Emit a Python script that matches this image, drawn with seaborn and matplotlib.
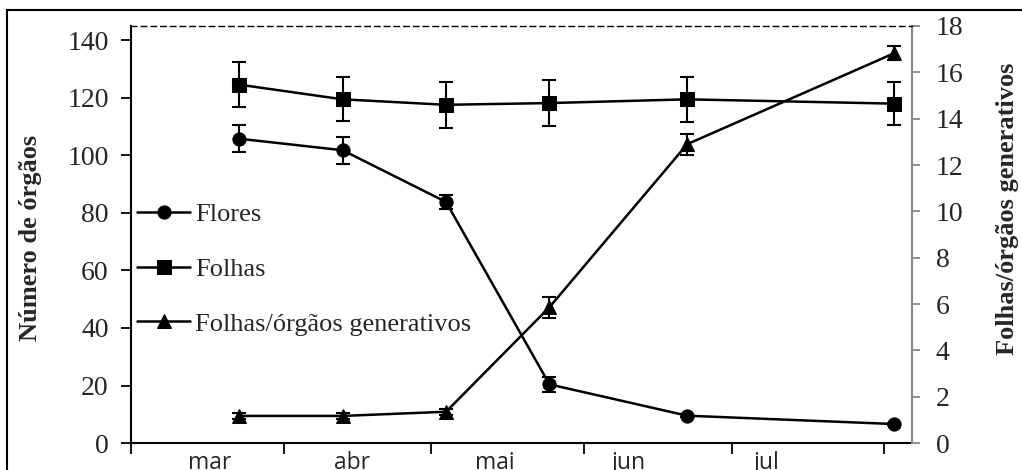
import numpy as np
import pandas as pd
import matplotlib
matplotlib.use("Agg")
import matplotlib.pyplot as plt
import matplotlib.dates as mdates
from matplotlib.patches import Rectangle
from matplotlib.ticker import FuncFormatter, FixedLocator, FixedFormatter
import seaborn as sns

# datas de coleta (ano arbitrario, nao aparece no grafico)
datas = pd.to_datetime(["2010-03-23", "2010-04-13", "2010-05-04",
                        "2010-05-25", "2010-06-22", "2010-08-03"])

flores = [105.8, 101.8, 83.8, 20.4, 9.5, 6.6]
flores_err = [4.7, 4.7, 2.5, 2.6, 0.5, 0.5]

folhas = [124.6, 119.5, 117.6, 118.2, 119.5, 118.0]
folhas_err = [7.9, 7.6, 7.9, 8.0, 7.8, 7.4]

razao = [1.17, 1.17, 1.35, 5.86, 12.9, 16.82]
razao_err = [0.12, 0.12, 0.12, 0.45, 0.45, 0.3]

# rotulos dos meses (posicao aproximada como no original)
meses = ["mar", "abr", "mai", "jun", "jul"]
meses_pos = pd.to_datetime(["2010-03-17", "2010-04-15", "2010-05-14",
                            "2010-06-10", "2010-07-08"])

sns.set_theme(style="white")
plt.rcParams["font.family"] = ["Liberation Serif", "DejaVu Serif"]

fig = plt.figure(figsize=(10.22, 4.70), dpi=100)
ax = fig.add_axes([0.1282, 0.0574, 0.7642, 0.8873])
ax2 = ax.twinx()

kw = dict(color="black", linewidth=1.8, markersize=9.5, markeredgecolor="black")
sns.lineplot(x=datas, y=flores, marker="o", ax=ax, label="Flores", **kw)
sns.lineplot(x=datas, y=folhas, marker="s", ax=ax, label="Folhas", **kw)
sns.lineplot(x=datas, y=razao, marker="^", ax=ax2,
             label="Folhas/órgãos generativos", **kw)

ekw = dict(fmt="none", ecolor="black", elinewidth=1.5, capsize=5, capthick=1.5)
ax.errorbar(datas, flores, yerr=flores_err, **ekw)
ax.errorbar(datas, folhas, yerr=folhas_err, **ekw)
ax2.errorbar(datas, razao, yerr=razao_err, **ekw)

# eixos
ax.set_xlim(pd.Timestamp("2010-03-01"), pd.Timestamp("2010-08-06 16:00"))
ax.set_ylim(0, 145)
ax2.set_ylim(0, 18)
ax.set_yticks(np.arange(0, 141, 20))
ax2.set_yticks(np.arange(0, 19, 2))

ax.xaxis.set_major_locator(mdates.MonthLocator())
ax.xaxis.set_major_formatter(FuncFormatter(lambda v, p: ""))
ax.xaxis.set_minor_locator(FixedLocator(mdates.date2num(meses_pos)))
ax.xaxis.set_minor_formatter(FixedFormatter(meses))
ax.tick_params(axis="x", which="major", direction="out", length=8, width=1.3, color="black", bottom=True)
ax.tick_params(axis="x", which="minor", length=0, labelsize=16.5, pad=6)
for t in ax.xaxis.get_minorticklabels():
    t.set_family(["Open Sans", "DejaVu Sans"])

ax.tick_params(axis="y", direction="out", length=7, width=1.3, color="black", labelsize=20, left=True, pad=9)
ax2.tick_params(axis="y", direction="out", length=6, width=1.3, color="#888888", labelsize=20, right=True, pad=11)

for s in ["left", "bottom"]:
    ax.spines[s].set_color("black")
    ax.spines[s].set_linewidth(1.5)
ax.spines["right"].set_visible(False)
ax.spines["top"].set_visible(False)
ax2.spines["left"].set_visible(False)
ax2.spines["bottom"].set_visible(False)
ax2.spines["right"].set_color("#888888")
ax2.spines["right"].set_linewidth(1.5)
ax2.spines["top"].set_linestyle((0, (4, 3)))
ax2.spines["top"].set_linewidth(1.0)
ax2.spines["top"].set_color("black")

ax.set_ylabel("Número de órgãos", fontsize=19, fontweight="bold")
ax.yaxis.set_label_coords(-0.114, 0.492)
ax2.set_ylabel("Folhas/órgãos generativos", fontsize=19, fontweight="bold")
ax2.yaxis.set_label_coords(1.108, 0.561)
ax.set_xlabel("")

# legenda
h1, l1 = ax.get_legend_handles_labels()
h2, l2 = ax2.get_legend_handles_labels()
ax.get_legend().remove()
ax2.get_legend().remove()
ax2.legend(h1 + h2, l1 + l2, loc="upper left", bbox_to_anchor=(0.008, 0.576),
           frameon=False, fontsize=19, handlelength=2.0, handletextpad=0.2,
           labelspacing=1.18, borderaxespad=0, borderpad=0)

# moldura externa
fig.patches.append(Rectangle((7 / 1022, -0.1), 2, 0.9787 + 0.1, transform=fig.transFigure,
                             fill=False, edgecolor="black", linewidth=1.5))

fig.savefig("out.png", dpi=100)
